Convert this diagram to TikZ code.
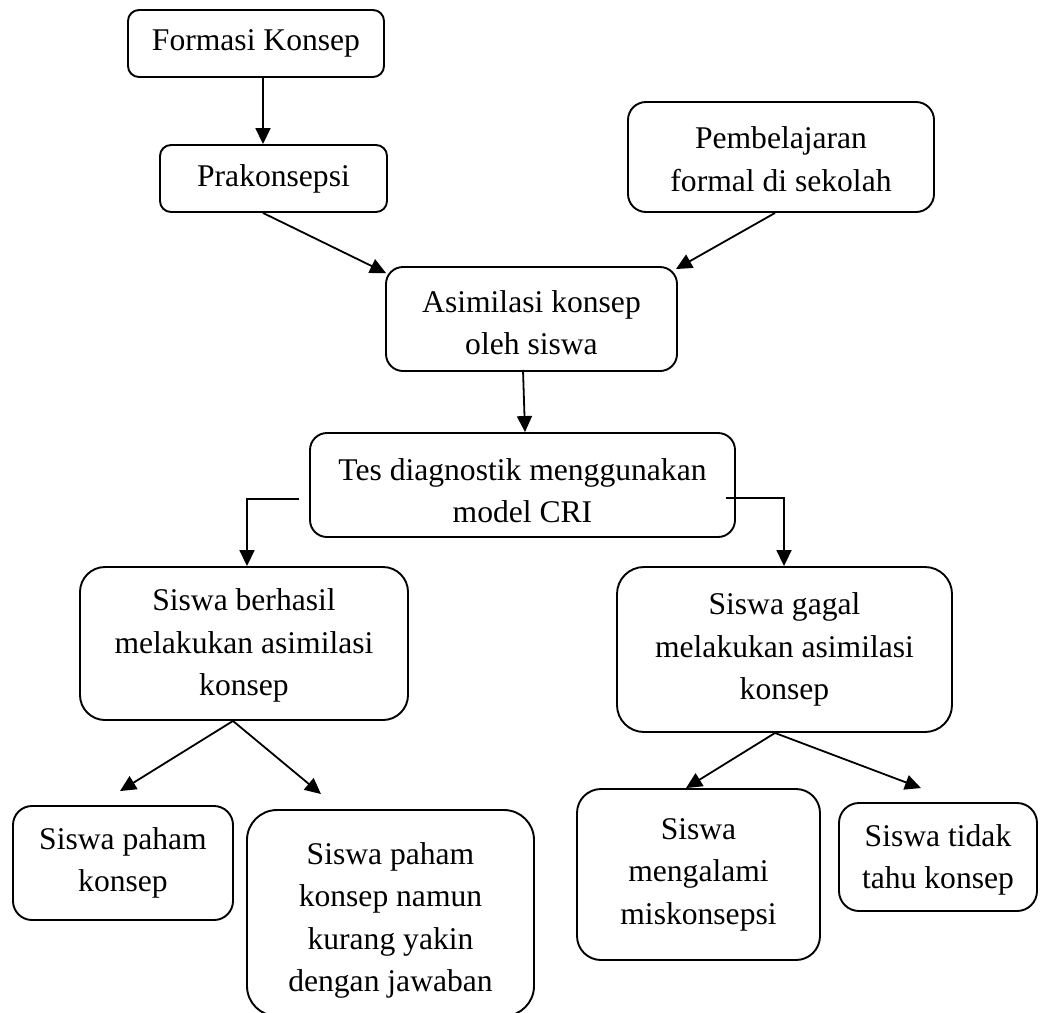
\documentclass[tikz,border=0pt]{standalone}
\usepackage{fontspec}
\setmainfont{Liberation Serif}
\usetikzlibrary{arrows.meta,calc}
\newcommand\mystrutx[1]{\rule{0pt}{#1}}
\begin{document}
\begin{tikzpicture}[x=1pt,y=-1pt,
  rbox/.style n args={3}{draw, line width=1.9pt, rounded corners=#3,
    minimum width=#1, minimum height=#2, inner sep=0pt, align=center,
    font=\fontsize{31.6pt}{42.5pt}\selectfont},
  arr/.style={draw, line width=1.8pt, -{Triangle[length=16pt,width=15pt]}}]
\useasboundingbox (0,0) rectangle (1040,1012);
\node[rbox={256pt}{67pt}{11pt}] (f) at (256,43.5) {Formasi Konsep};
\node[rbox={227pt}{67pt}{11pt}] (p) at (273.5,178.5) {Prakonsepsi};
\node[rbox={306pt}{110pt}{18pt}] (pb) at (781,157) {\mystrutx{26pt}Pembelajaran\\formal di sekolah};
\node[rbox={291pt}{104pt}{17pt}] (a) at (531.5,319) {\mystrutx{29pt}Asimilasi konsep\\oleh siswa};
\node[rbox={425pt}{104pt}{17pt}] (t) at (522.5,485) {\mystrutx{33pt}Tes diagnostik menggunakan\\model CRI};
\node[rbox={328pt}{153pt}{25pt}] (b) at (244,643.5) {\mystrutx{26pt}Siswa berhasil\\melakukan asimilasi\\konsep};
\node[rbox={335pt}{165pt}{27pt}] (g) at (784.5,649.5) {Siswa gagal\\melakukan asimilasi\\konsep};
\node[rbox={220pt}{114pt}{19pt}] (pk) at (123,863) {Siswa paham\\konsep};
\node[rbox={287pt}{206pt}{30pt}] (pn) at (390.5,913) {\mystrutx{37pt}Siswa paham\\konsep namun\\kurang yakin\\dengan jawaban};
\node[rbox={243pt}{171pt}{24pt}] (m) at (698.5,874.5) {Siswa\\mengalami\\miskonsepsi};
\node[rbox={198pt}{108pt}{20pt}] (tt) at (938,857) {\mystrutx{28pt}Siswa tidak\\tahu konsep};
\draw[arr] ($(f.south)+(7,0)$) -- ($(p.north)+(-10.5,0)$);
\draw[arr] ($(p.south)+(-10.5,0)$) -- ($(a.north west)+(1,7)$);
\draw[arr] ($(pb.south)+(-6,0)$) -- ($(a.north east)+(-2,3)$);
\draw[arr] ($(a.south)+(-8.5,-2)$) -- ($(t.north)+(2.5,0)$);
\draw[arr] ($(t.west)+(-10,14)$) -| ($(b.north)+(3,0)$);
\draw[arr] ($(t.east)+(-10,13)$) -| ($(g.north)+(-0.5,0)$);
\draw[arr] ($(b.south)+(-11,0)$) -- ($(pk.north)+(-3,-14)$);
\draw[arr] ($(b.south)+(-11,0)$) -- ($(pn.north)+(-69.5,-15)$);
\draw[arr] ($(g.south)+(-9.5,0)$) -- ($(m.north)+(-12.5,0)$);
\draw[arr] ($(g.south)+(-9.5,0)$) -- ($(tt.north)+(-17,-14)$);
\end{tikzpicture}
\end{document}
